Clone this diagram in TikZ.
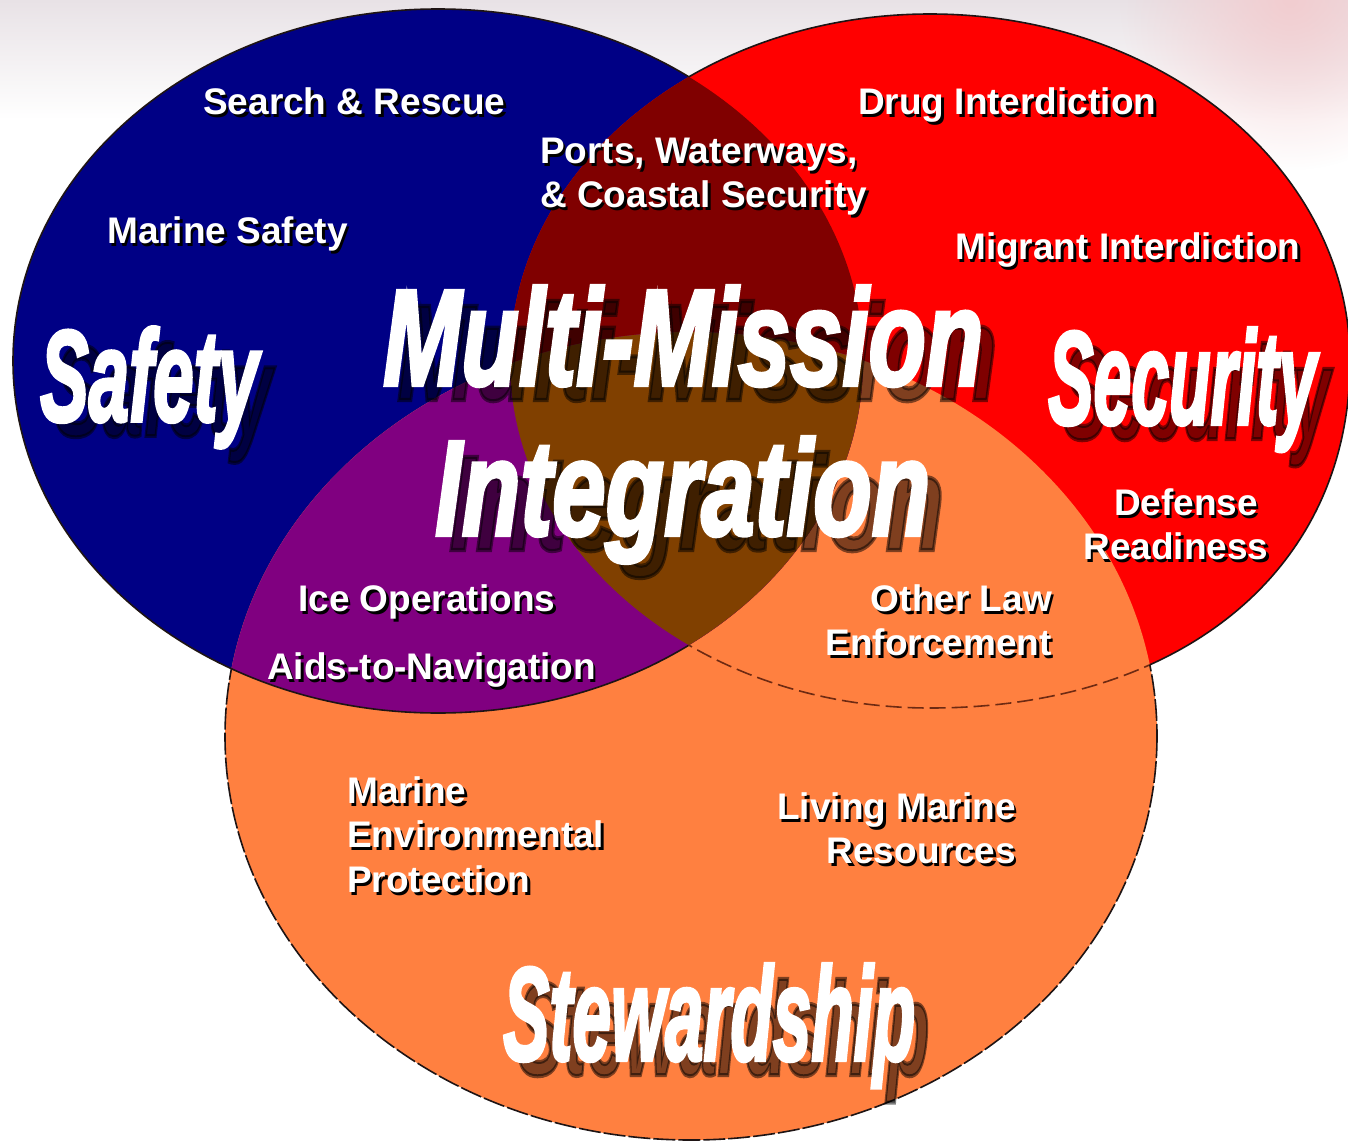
\documentclass[tikz,border=0pt]{standalone}
\usepackage{fontspec}
\usepackage{graphicx}
\usetikzlibrary{fadings}
\setmainfont{Liberation Sans}
\newfontfamily\ttlfont{Liberation Sans}[FakeBold=3]
\newcommand\lblfont{\fontsize{37}{44}\selectfont\bfseries}
\newcommand\mmtitle[3]{\resizebox{#1pt}{#2pt}{\ttlfont\bfseries\itshape #3}}

\definecolor{cblue}{HTML}{000085}
\definecolor{cred}{HTML}{FF0000}
\definecolor{corange}{HTML}{FF8040}
\definecolor{cmaroon}{HTML}{800000}
\definecolor{cpurple}{HTML}{800080}
\definecolor{cbrown}{HTML}{804000}
\definecolor{cedge}{HTML}{1E1414}
\definecolor{cdash}{HTML}{6E2A12}
\definecolor{bgtop}{HTML}{E8E2E6}
\definecolor{bgpink}{HTML}{F2CDD0}

\tikzfading[name=softglow, inner color=transparent!0, outer color=transparent!100]

\def\bluepath{(438,361) ellipse [x radius=425, y radius=352]}
\def\orangepath{(691,736) ellipse [x radius=466, y radius=404]}
\def\redpath{(510,361) .. controls (510,169.4) and (698,14) .. (930,14) .. controls (1162,14) and (1350,169.4) .. (1350,361) .. controls (1350,569.2) and (1182,708) .. (930,708) .. controls (698,708) and (510,552.6) .. cycle}
\def\bigbox{(-30,-30) rectangle (1380,1170)}

\tikzset{
  lbl/.style={text=white, font=\lblfont, inner sep=0pt},
  lblsh/.style={text=black, font=\lblfont, inner sep=0pt},
  ttlw/.style={text=white, inner sep=0pt},
  ttlsh/.style={text=black, opacity=0.5, inner sep=0pt},
  edgeline/.style={draw=cedge, line width=1.6pt},
  reddash/.style={draw=cdash, line width=1.6pt, dash pattern=on 16pt off 6pt},
  orangedash/.style={draw=cedge, line width=1.6pt, dash pattern=on 22pt off 3pt}
}

\newcommand\shlbl[5]{%
  \node[lblsh, anchor=#2] (#1s) at ({#3+2.5},{#4+3}) {#5};
  \node[lbl, anchor=#2] (#1) at (#3,#4) {#5};}
\newcommand\shttl[6]{%
  \node[ttlsh, anchor=base west] (#1s) at ({#2+14},{#3+15}) {\mmtitle{#4}{#5}{#6}};}
\newcommand\whttl[6]{%
  \node[ttlw, anchor=base west] (#1) at (#2,#3) {\mmtitle{#4}{#5}{#6}};}

\begin{document}
\begin{tikzpicture}[x=1pt,y=-1pt]
\useasboundingbox (0,0) rectangle (1348,1140);
\fill[white] (0,0) rectangle (1348,1140);
\shade[top color=bgtop, bottom color=white] (0,0) rectangle (1348,120);
\fill[bgpink, path fading=softglow] (1290,0) circle (170);

% region fills
\fill[cblue] \bluepath;
\fill[cred] \redpath;
\fill[corange] \orangepath;
\begin{scope}
  \clip \bluepath;
  \fill[cmaroon] \redpath;
  \fill[cpurple] \orangepath;
  \clip \redpath;
  \fill[cbrown] \orangepath;
\end{scope}

% outlines
\begin{scope}[even odd rule]
  \clip \bigbox \redpath;
  \draw[edgeline] \bluepath;
\end{scope}
\begin{scope}[even odd rule]
  \clip \bigbox \bluepath;
  \begin{scope}
    \clip \bigbox \orangepath;
    \draw[edgeline] \redpath;
  \end{scope}
  \begin{scope}[nonzero rule]
    \clip \orangepath;
    \draw[reddash] \redpath;
  \end{scope}
  \begin{scope}
    \clip \bigbox \redpath;
    \draw[orangedash] \orangepath;
  \end{scope}
\end{scope}

% titles: shadows first
\shttl{safety}{40}{421}{218}{94}{Safety}
\shttl{security}{1048}{424}{268}{96}{Security}
\shttl{multi}{383}{385}{600}{99}{Multi-Mission}
\shttl{integ}{435}{535}{495}{98}{Integration}
\shttl{stew}{503}{1060}{412}{96}{Stewardship}
\whttl{safety}{40}{421}{218}{94}{Safety}
\whttl{security}{1048}{424}{268}{96}{Security}
\whttl{multi}{383}{385}{600}{99}{Multi-Mission}
\whttl{integ}{435}{535}{495}{98}{Integration}
\whttl{stew}{503}{1060}{412}{96}{Stewardship}

% mission labels
\shlbl{sr}{base west}{203}{114}{Search \& Rescue}
\shlbl{di}{base west}{858}{114}{Drug Interdiction}
\shlbl{pwa}{base west}{540}{163}{Ports, Waterways,}
\shlbl{pwb}{base west}{540}{207}{\& Coastal Security}
\shlbl{ms}{base west}{107}{243}{Marine Safety}
\shlbl{mi}{base west}{955}{259}{Migrant Interdiction}
\shlbl{dra}{base}{1186}{515}{Defense}
\shlbl{drb}{base}{1176}{559}{Readiness}
\shlbl{io}{base west}{298}{611}{Ice Operations}
\shlbl{an}{base west}{267}{679}{Aids-to-Navigation}
\shlbl{ola}{base east}{1052}{611}{Other Law}
\shlbl{olb}{base east}{1052}{655}{Enforcement}
\shlbl{mea}{base west}{347}{803}{Marine}
\shlbl{meb}{base west}{347}{847}{Environmental}
\shlbl{mec}{base west}{347}{892}{Protection}
\shlbl{lma}{base east}{1016}{819}{Living Marine}
\shlbl{lmb}{base east}{1016}{863}{Resources}
\end{tikzpicture}
\end{document}
